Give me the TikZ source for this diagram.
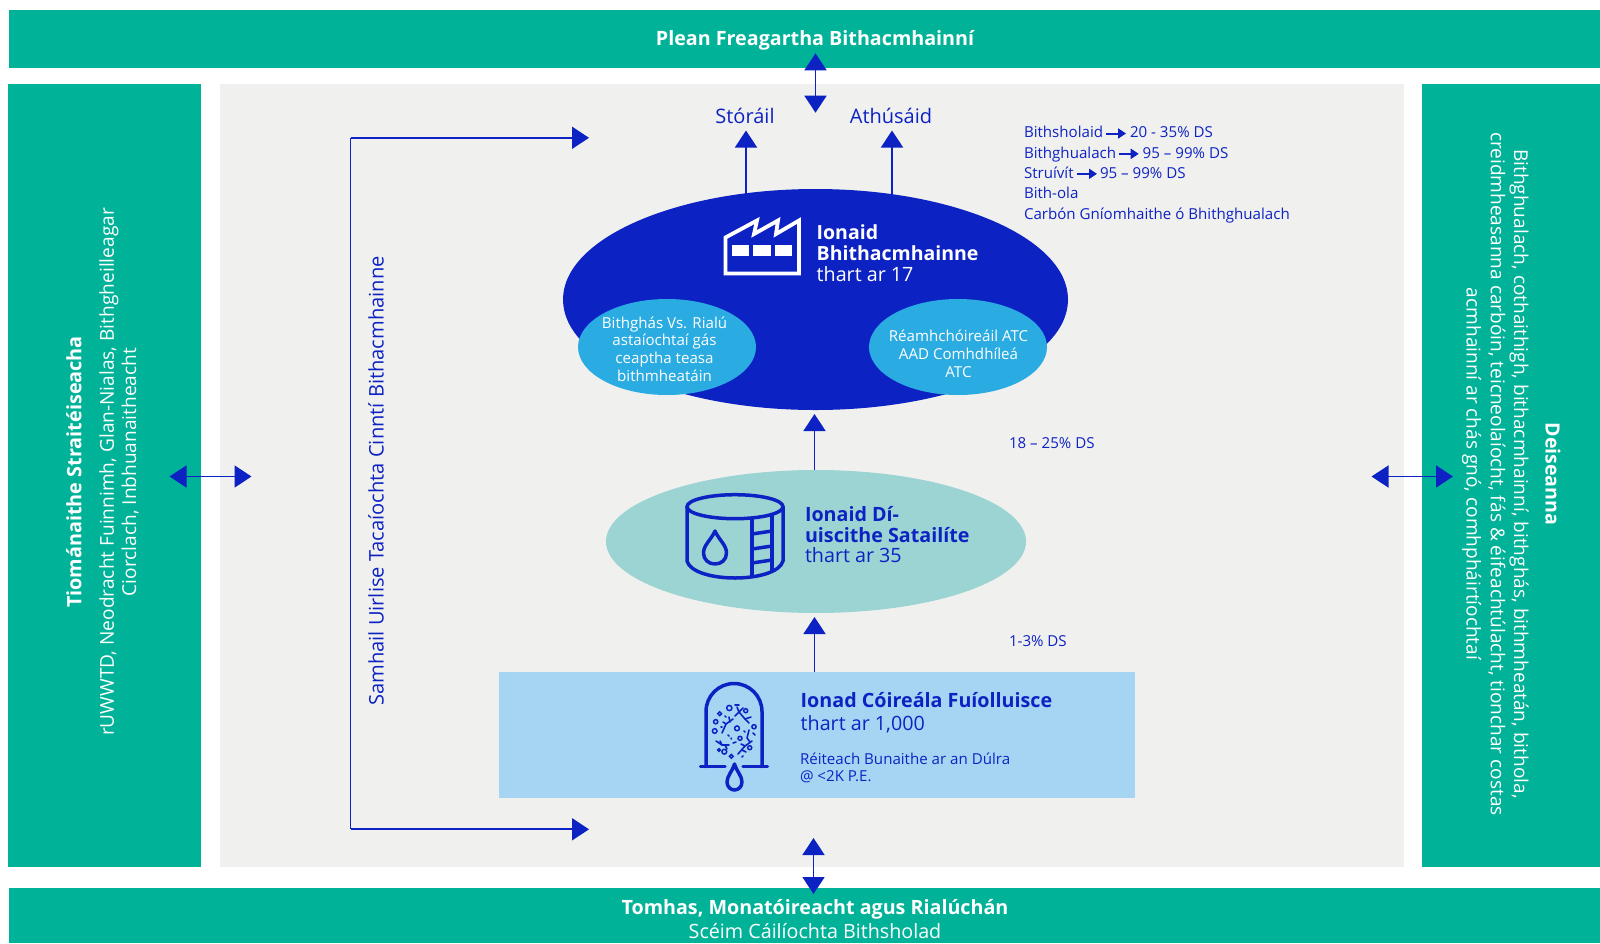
\documentclass[tikz,border=0pt]{standalone}
\usepackage{fontspec}
\setmainfont{Open Sans}
\usetikzlibrary{arrows.meta}
\definecolor{tealbar}{HTML}{00B398}
\definecolor{deepblue}{HTML}{0D22C3}
\definecolor{skyblue}{HTML}{2AACE2}
\definecolor{paleteal}{HTML}{9BD4D3}
\definecolor{paleblue}{HTML}{A6D5F4}
\definecolor{panel}{HTML}{F0F0EF}
\newcommand{\fs}[1]{\fontsize{#1}{#1}\selectfont}
\tikzset{
  x=1pt,y=-1pt,
  bar/.style={fill=tealbar,draw=none},
  flow/.style={draw=deepblue,line width=1.8pt,-{Triangle[length=17pt,width=22pt]}},
  flowboth/.style={draw=deepblue,line width=1.8pt,{Triangle[length=17pt,width=22pt]}-{Triangle[length=17pt,width=22pt]}},
  minor/.style={draw=deepblue,line width=2pt,-{Triangle[length=8pt,width=10pt]}},
  lab/.style={inner sep=0pt,outer sep=0pt},
  bluetext/.style={lab,text=deepblue},
  whitetext/.style={lab,text=white},
  icon/.style={draw=deepblue,line width=3.5pt,line join=round,line cap=round},
  fine/.style={draw=deepblue,line width=1.6pt,line cap=round,line join=round},
  blob/.style={draw=deepblue,line width=1.5pt},
}
\begin{document}
\begin{tikzpicture}
\useasboundingbox (0,0) rectangle (1600,943);
\fill[white] (0,0) rectangle (1600,943);
% bars and panel
\fill[bar] (9,9.5) rectangle (1600,68);
\fill[bar] (8,84) rectangle (201,867);
\fill[panel] (220,84) rectangle (1404,867);
\fill[bar] (1422,84) rectangle (1600,867);
\fill[bar] (9,888) rectangle (1600,943);
% main shapes
\fill[deepblue] (815.5,299.5) ellipse [x radius=252.5,y radius=110.5];
\fill[skyblue] (667,347) ellipse [x radius=89,y radius=48];
\fill[skyblue] (958,347) ellipse [x radius=89,y radius=48];
\fill[paleteal] (816,541.5) ellipse [x radius=210,y radius=71.5];
\fill[paleblue] (499,671.5) rectangle (1135,798);
% named connector ends
\coordinate (topA) at (815.5,53.3);
\coordinate (topB) at (815.5,112.7);
\coordinate (botA) at (813.5,838);
\coordinate (botB) at (813.5,894);
\coordinate (leftA) at (169.5,476.5);
\coordinate (leftB) at (251.5,476.5);
\coordinate (rightA) at (1371.5,476.5);
\coordinate (rightB) at (1453,476.5);
\coordinate (storeTail) at (746,195);
\coordinate (storeTip) at (746,130.5);
\coordinate (reuseTail) at (892,195);
\coordinate (reuseTip) at (892,130.5);
\coordinate (hubTop) at (814.5,414);
\coordinate (satTop) at (814.5,470);
\coordinate (satBot) at (814.5,617);
\coordinate (plantTop) at (814.5,671.5);
\coordinate (brTop) at (350.5,137.8);
\coordinate (brBot) at (350.5,829.3);
\coordinate (brTopTip) at (589,137.8);
\coordinate (brBotTip) at (589,829.3);
\draw[flowboth] (topA) -- (topB);
\draw[flowboth] (botA) -- (botB);
\draw[flowboth] (leftA) -- (leftB);
\draw[flowboth] (rightA) -- (rightB);
\draw[flow] (storeTail) -- (storeTip);
\draw[flow] (reuseTail) -- (reuseTip);
\draw[flow] (satTop) -- (hubTop);
\draw[flow] (plantTop) -- (satBot);
\draw[flow] (brTop) -- (brTopTip);
\draw[flow] (brBot) -- (brBotTip);
\draw[draw=deepblue,line width=1.8pt] (brTop) -- (brBot);
% bars text
\node[whitetext,font=\fs{19.7}\bfseries] (plan) at (815,40) {Plean Freagartha Bithacmhainní};
\node[whitetext,font=\fs{19.7}\bfseries] (meas) at (815,909) {Tomhas, Monatóireacht agus Rialúchán};
\node[whitetext,font=\fs{19.7}] (qual) at (815,931) {Scéim Cáilíochta Bithsholad};
% left
\node[whitetext,rotate=90,font=\fs{19.8}\bfseries] (ldr) at (74,472) {Tiománaithe Straitéiseacha};
\node[whitetext,rotate=90,font=\fs{19.1}] (ldr1) at (109,472) {rUWWTD, Neodracht Fuinnimh, Glan-Nialas, Bithgheilleagar};
\node[whitetext,rotate=90,font=\fs{19.1}] (ldr2) at (130,472) {Ciorclach, Inbhuanaitheacht};
% right
\node[whitetext,rotate=-90,font=\fs{19.6}\bfseries] (opp) at (1553,474) {Deiseanna};
\node[whitetext,rotate=-90,font=\fs{19.05}] (opp1) at (1519,474) {Bithghualach, cothaithigh, bithacmhainní, bithghás, bithmheatán, bithola,};
\node[whitetext,rotate=-90,font=\fs{19.05}] (opp2) at (1497,474) {creidmheasanna carbóin, teicneolaíocht, fás \& éifeachtúlacht, tionchar costas};
\node[whitetext,rotate=-90,font=\fs{19.05}] (opp3) at (1471.5,474) {acmhainní ar chás gnó, comhpháirtíochtaí};
% bracket label
\node[bluetext,rotate=90,font=\fs{20.1}] (model) at (376,481) {Samhail Uirlise Tacaíochta Cinntí Bithacmhainne};
% outputs
\node[bluetext,font=\fs{20}] (store) at (745,116) {Stóráil};
\node[bluetext,font=\fs{20}] (reuse) at (891,116) {Athúsáid};
% products list
\node[bluetext,anchor=base west,font=\fs{15.1}] (p1a) at (1024,137.7) {Bithsholaid};
\node[bluetext,anchor=base west,font=\fs{15.1}] (p1b) at (1130,137.7) {20 - 35\% DS};
\node[bluetext,anchor=base west,font=\fs{15.1}] (p2a) at (1024,158) {Bithghualach};
\node[bluetext,anchor=base west,font=\fs{15.1}] (p2b) at (1142.7,158) {95 – 99\% DS};
\node[bluetext,anchor=base west,font=\fs{15.1}] (p3a) at (1024,178) {Struívít};
\node[bluetext,anchor=base west,font=\fs{15.1}] (p3b) at (1100,178) {95 – 99\% DS};
\node[bluetext,anchor=base west,font=\fs{15.1}] (p4) at (1024,198) {Bith-ola};
\node[bluetext,anchor=base west,font=\fs{15.1}] (p5) at (1024,219) {Carbón Gníomhaithe ó Bhithghualach};
\draw[minor] ([xshift=3pt,yshift=1.5pt]p1a.mid east) -- ([xshift=-4pt,yshift=1.5pt]p1b.mid west);
\draw[minor] ([xshift=3pt,yshift=1.5pt]p2a.mid east) -- ([xshift=-4pt,yshift=1.5pt]p2b.mid west);
\draw[minor] ([xshift=3pt,yshift=1.5pt]p3a.mid east) -- ([xshift=-3pt,yshift=1.5pt]p3b.mid west);
% hub text
\node[whitetext,anchor=base west,font=\fs{19.5}\bfseries] (h1) at (816.7,239) {Ionaid};
\node[whitetext,anchor=base west,font=\fs{19.5}\bfseries] (h2) at (816.7,260) {Bhithacmhainne};
\node[whitetext,anchor=base west,font=\fs{19.7}] (h3) at (816.7,281) {thart ar 17};
\node[whitetext,align=center,font=\fontsize{15.1}{17.8}\selectfont] (gas) at (664.5,349) {Bithghás Vs. Rialú\\astaíochtaí gás\\ceaptha teasa\\bithmheatáin};
\node[whitetext,align=center,font=\fontsize{15.1}{17.8}\selectfont] (atc) at (958.5,354) {Réamhchóireáil ATC\\AAD Comhdhíleá\\ATC};
% satellite text
\node[bluetext,anchor=base west,font=\fs{19.7}\bfseries] (s1) at (805,521.7) {Ionaid Dí-};
\node[bluetext,anchor=base west,font=\fs{19.7}\bfseries] (s2) at (805,542.7) {uiscithe Satailíte};
\node[bluetext,anchor=base west,font=\fs{19.7}] (s3) at (805,562.7) {thart ar 35};
% plant text
\node[bluetext,anchor=base west,font=\fs{19.7}\bfseries] (w1) at (800.7,707.7) {Ionad Cóireála Fuíolluisce};
\node[bluetext,anchor=base west,font=\fs{19.7}] (w2) at (800.7,730) {thart ar 1,000};
\node[bluetext,anchor=base west,font=\fs{15.1}] (w3) at (800,764) {Réiteach Bunaithe ar an Dúlra};
\node[bluetext,anchor=base west,font=\fs{15.1}] (w4) at (800,781) {@ <2K P.E.};
% DS labels
\node[bluetext,anchor=base west,font=\fs{15.1}] (d1) at (1009,448) {18 – 25\% DS};
\node[bluetext,anchor=base west,font=\fs{15.1}] (d2) at (1009,646) {1-3\% DS};
% factory icon
\draw[white,line width=3.8pt,line join=miter,miter limit=4] (725.5,273.5) -- (725.5,237.5) -- (757,220.5) -- (754,234) -- (778,220.5) -- (776,234) -- (799,220.5) -- (799,273.5) -- cycle;
\fill[white] (732.3,245) rectangle (749.3,256);
\fill[white] (753.3,245) rectangle (770.7,256);
\fill[white] (774.7,245) rectangle (791.7,256);
% tank icon
\draw[icon] (735,506.7) ellipse [x radius=48,y radius=12];
\draw[icon] (687,506.7) -- (687,561) .. controls (690,572) and (712,578) .. (735,578) .. controls (758,578) and (780,572) .. (783,561) -- (783,506.7);
\draw[icon] (752,518.5) -- (752,576);
\draw[icon] (772,516) -- (772,570);
\draw[icon] (752,534) -- (772,531);
\draw[icon] (752,549) -- (772,546);
\draw[icon] (752,563) -- (772,560);
\draw[icon] (715,531) .. controls (711,540) and (703.5,545) .. (703.5,553) .. controls (703.5,560) and (709,564) .. (715,564) .. controls (721,564) and (726.5,560) .. (726.5,553) .. controls (726.5,545) and (719,540) .. (715,531) -- cycle;
% plant icon
\draw[icon] (706,766.5) -- (706,711.5) arc [start angle=180,end angle=360,x radius=28,y radius=28] -- (762,766.5);
\draw[icon] (700.5,766.5) -- (725,766.5);
\draw[icon] (743,766.5) -- (767.5,766.5);
\draw[icon] (734.5,764) .. controls (732,772) and (727,776) .. (727,782) .. controls (727,787) and (731,790) .. (734.5,790) .. controls (738,790) and (742,787) .. (742,782) .. controls (742,776) and (737,772) .. (734.5,764) -- cycle;
% organisms
\foreach \cx/\cy/\r in {729.3/708/2.6,719.7/713.7/1.9,715.7/721.7/2.1,714.7/731/2.3,724.3/751.7/2.4,731.3/756.3/1.9,745.7/710.7/2,754/726.7/2.1,749.7/747.7/2,737/728.3/2.4,740/738.3/2,719/750/1.4}
  \draw[blob] (\cx,\cy) circle [radius=\r];
\draw[fine] (722,733) -- (726,724) -- (733,719);
\draw[fine] (726,724) -- (723,722);
\draw[fine] (730,722) -- (729,717);
\draw[fine] (735,716) -- (739,712) -- (737,707);
\draw[fine] (739,712) -- (745,719) -- (749,723);
\draw[fine] (745,719) -- (751,717);
\draw[fine] (739,712) -- (743,708);
\draw[fine] (716,741) -- (722,745) -- (729,745);
\draw[fine] (722,745) -- (720,741);
\draw[fine] (725,745) -- (727,749);
\draw[fine] (738,754) -- (745,746) -- (752,741);
\draw[fine] (745,746) -- (741,744);
\draw[fine] (742,750) -- (746,752);
\draw[fine] (749,730) -- (747,738) -- (750,742);
\draw[fine] (735,705) -- (739,705);
\draw[fine] (753,733) -- (755,735);
\draw[fine] (733,743) -- (736,742);
\draw[fine] (728,735) -- (729,736);
\draw[fine] (725,716) -- (726,717);
\draw[fine] (731,738) -- (731.5,739);
\draw[fine] (742,757) -- (743,756);
\draw[fine] (721,727) -- (722,727);
\draw[fine] (744,731) -- (745,732);
\end{tikzpicture}
\end{document}
